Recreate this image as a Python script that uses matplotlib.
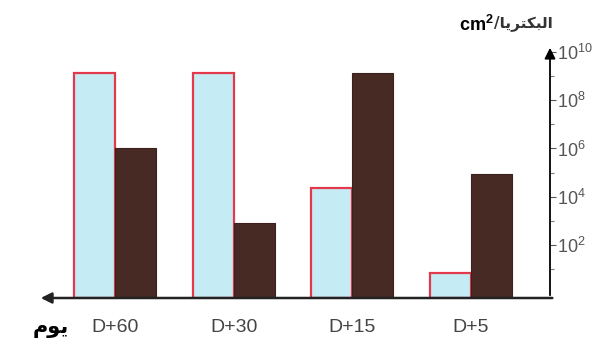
import matplotlib
matplotlib.use("Agg")
import matplotlib.pyplot as plt
from matplotlib.ticker import FixedLocator, FuncFormatter, NullFormatter
import numpy as np

plt.rcParams['font.family'] = ['Liberation Sans', 'DejaVu Sans']
plt.rcParams['mathtext.fontset'] = 'custom'
plt.rcParams['mathtext.rm'] = 'Liberation Sans'
plt.rcParams['mathtext.bf'] = 'Liberation Sans:bold'

# data (bacteria / cm2, log scale)
days = ["D+60", "D+30", "D+15", "D+5"]
blue_vals = [1.3e9, 1.3e9, 2.3e4, 7]
brown_vals = [1.0e6, 8.0e2, 1.3e9, 9.0e4]
major_exp = [2, 4, 6, 8, 10]
minor_exp = [1, 3, 5, 7, 9]

# arabic text, pre-shaped in visual order (matplotlib does no bidi shaping)
day_label = "\ufee1\ufeee\ufef3"               # يوم
bact_label = "\ufe8e\ufef3\ufeae\ufe98\ufedc\ufe92\ufedf\ufe8d"  # البكتريا

fig = plt.figure(figsize=(6.04, 3.51), dpi=100)
ax = fig.add_axes([38 / 604, 53 / 351, 512 / 604, 253 / 351])

x = np.arange(len(days))
w = 0.345
ymin = 10 ** -0.2
ax.bar(x - w / 2, np.array(blue_vals) - ymin, w, bottom=ymin,
       color="#c5ecf4", edgecolor="#e23a4c", linewidth=1.6, zorder=3)
ax.bar(x + w / 2, np.array(brown_vals) - ymin, w, bottom=ymin,
       color="#472a23", edgecolor="#3b201b", linewidth=0.8, zorder=3)

ax.set_yscale("log")
ax.set_ylim(ymin, 10 ** 10.29)
ax.set_xlim(-0.649, 3.666)

ax.yaxis.tick_right()
ax.yaxis.set_major_locator(FixedLocator([10.0 ** e for e in major_exp]))
ax.yaxis.set_minor_locator(FixedLocator([10.0 ** e for e in minor_exp]))
ax.yaxis.set_major_formatter(FuncFormatter(lambda v, p: r"$\mathregular{10^{%d}}$" % round(np.log10(v))))
ax.yaxis.set_minor_formatter(NullFormatter())
ax.tick_params(axis="y", which="major", length=4, width=0.8, color="#555555",
               labelsize=13, labelcolor="#555555", pad=1)
ax.tick_params(axis="y", which="minor", length=3, width=0.8, color="#777777")

ax.set_xticks(x)
ax.set_xticklabels(days)
ax.tick_params(axis="x", length=0, labelsize=14, labelcolor="#444444", pad=15)

for s in ["top", "left", "right", "bottom"]:
    ax.spines[s].set_visible(False)

# axis arrows
ax.annotate("", xy=(1, 1), xytext=(1, 0), xycoords="axes fraction",
            arrowprops=dict(arrowstyle="-|>", color="black", lw=1.3, mutation_scale=16))
ax.annotate("", xy=(0, 0), xytext=(1.01, 0), xycoords="axes fraction",
            arrowprops=dict(arrowstyle="-|>", color="#222222", lw=1.8, mutation_scale=16))

fig.text(33 / 604, 1 - 328 / 351, day_label, family="DejaVu Sans", fontsize=15,
         fontweight="bold", color="black", va="center", ha="left")
fig.text(494 / 604, 1 - 25 / 351, r"cm$\mathbf{^2}$", fontsize=13,
         fontweight="bold", color="black", va="center", ha="right")
fig.text(494 / 604, 1 - 23 / 351, "/" + bact_label, family="DejaVu Sans", fontsize=11,
         fontweight="bold", color="#333333", va="center", ha="left")

fig.savefig("out.png", dpi=100)
